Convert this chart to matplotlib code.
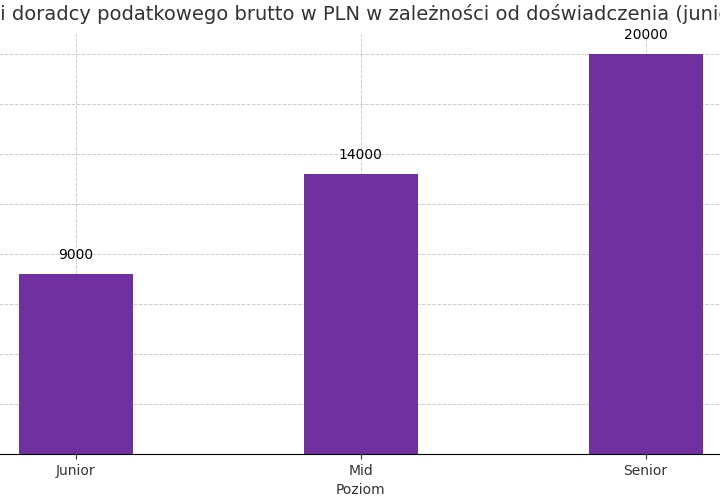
import matplotlib.pyplot as plt

levels = ['Junior', 'Mid', 'Senior']
salaries = [9000, 14000, 20000]

fig = plt.figure(figsize=(7.2, 5), dpi=100)
# axes is wider than the figure, like in the cropped reference
ax = fig.add_axes([-0.093, 0.092, 1.1875, 0.84])

bars = ax.bar(levels, salaries, width=0.4, color='#7030A0')
for b, v in zip(bars, salaries):
    ax.text(b.get_x() + b.get_width() / 2, v + 600, str(v), ha='center', va='bottom', fontsize=10)

ax.set_xlim(-0.5, 2.5)
ax.set_ylim(0, 21000)
ax.set_yticks(range(0, 21001, 2500))
ax.tick_params(axis='y', labelleft=False, left=False)
ax.grid(True, linestyle='--', color='#cccccc', linewidth=0.7)
ax.set_axisbelow(True)
for s in ['top', 'right']:
    ax.spines[s].set_visible(False)
ax.tick_params(axis='x', labelsize=10, colors='#333333')
ax.set_xlabel('Poziom', fontsize=10, color='#333333')
ax.set_title('Średnie zarobki doradcy podatkowego brutto w PLN w zależności od doświadczenia (junior, mid, senior)',
             fontsize=14, color='#333333', pad=10)

plt.savefig('out.png', dpi=100)
